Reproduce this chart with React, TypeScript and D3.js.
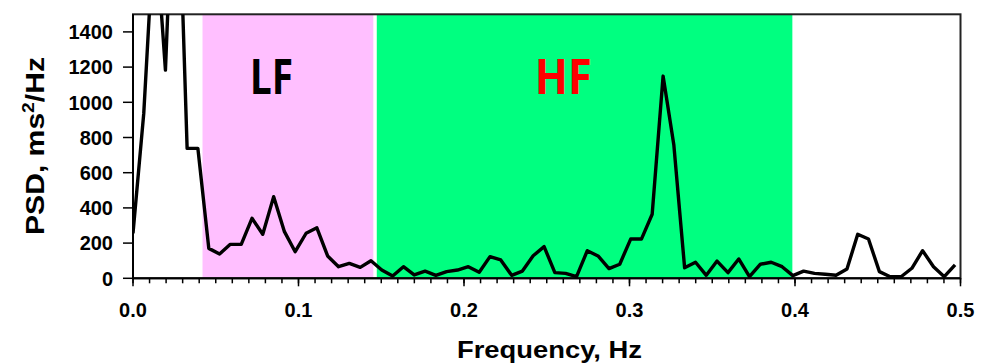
import * as d3 from 'd3'

// PSD spectrum, frequency bins (Hz) and power (ms²/Hz)
const freqs = [
  0, 0.0065, 0.0131, 0.0196, 0.0261, 0.0327, 0.0392, 0.0458, 0.0523, 0.0588,
  0.0654, 0.0719, 0.0784, 0.085, 0.0915, 0.098, 0.1046, 0.1111, 0.1176, 0.1242,
  0.1307, 0.1373, 0.1438, 0.1503, 0.1569, 0.1634, 0.1699, 0.1765, 0.183, 0.1895,
  0.1961, 0.2026, 0.2092, 0.2157, 0.2222, 0.2288, 0.2353, 0.2418, 0.2484, 0.2549,
  0.2614, 0.268, 0.2745, 0.281, 0.2876, 0.2941, 0.3007, 0.3072, 0.3137, 0.3203,
  0.3268, 0.3333, 0.3399, 0.3464, 0.3529, 0.3595, 0.366, 0.3725, 0.3791, 0.3856,
  0.3922, 0.3987, 0.4052, 0.4118, 0.4183, 0.4248, 0.4314, 0.4379, 0.4444, 0.451,
  0.4575, 0.4641, 0.4706, 0.4771, 0.4837, 0.4902, 0.4967,
]
const psd = [
  256, 937, 2050, 1183, 2700, 738, 738, 170, 138, 193,
  193, 341, 250, 464, 265, 151, 256, 287, 127, 66,
  85, 62, 100, 47, 13, 66, 19, 41, 17, 38,
  47, 66, 34, 123, 104, 17, 41, 128, 180, 32,
  28, 9, 157, 127, 55, 80, 223, 223, 364, 1149,
  757, 60, 91, 17, 98, 32, 110, 9, 80, 91,
  66, 15, 41, 28, 23, 17, 53, 250, 223, 38,
  9, 9, 57, 157, 66, 9, 76,
]

// frequency bands
const bandNames = ['LF', 'HF']
const bandStart = [0.042, 0.1473]
const bandEnd = [0.1452, 0.3984]

const yTicks = [0, 200, 400, 600, 800, 1000, 1200, 1400]
const xTicks = [0, 0.1, 0.2, 0.3, 0.4, 0.5]

const W = 983
const H = 363
const left = 133
const right = 960.5
const top = 14.3
const bottom = 278.3

const bandFill = ['#ffbfff', '#00ff80']
const bandText = ['#000000', '#ff0000']
const bandLabelX = [0.0837, 0.26]
const bandLabelW = [43, 57]

const font = '"Liberation Sans", Arial, sans-serif'

export default function App() {
  const x = d3.scaleLinear().domain([0, 0.5]).range([left, right])
  const y = d3.scaleLinear().domain([0, 1500]).range([bottom, top])

  const pts = freqs.map((f, i) => [f, psd[i]] as [number, number])
  const line = d3.line<[number, number]>()
    .x(d => x(d[0]))
    .y(d => y(d[1]))

  const minor = x.ticks(50)

  return (
    <svg width={W} height={H} style={{ position: 'absolute', left: 0, top: 0, display: 'block' }}
      fontFamily={font} fontWeight="bold">
      <defs>
        <clipPath id="plot-clip">
          <rect x={left} y={top} width={right - left} height={bottom - top} />
        </clipPath>
      </defs>

      {/* band shading */}
      {bandNames.map((b, i) => (
        <rect key={b} x={x(bandStart[i])} y={top}
          width={x(bandEnd[i]) - x(bandStart[i])} height={bottom - top}
          fill={bandFill[i]} />
      ))}
      {bandNames.map((b, i) => (
        <text key={b + 't'} x={x(bandLabelX[i])} y={y(1050)} textAnchor="middle"
          fontSize={48} fill={bandText[i]} fontFamily='"Noto Sans", sans-serif' fontWeight="bold"
          textLength={bandLabelW[i]} lengthAdjust="spacingAndGlyphs">{b}</text>
      ))}

      {/* frame */}
      <rect x={left} y={top} width={right - left} height={bottom - top}
        fill="none" stroke="#222" strokeWidth={2} />

      {/* data */}
      <path d={line(pts) ?? ''} fill="none" stroke="#000" strokeWidth={3.4}
        strokeLinejoin="round" clipPath="url(#plot-clip)" />

      {/* y axis */}
      <line x1={left} x2={left} y1={top} y2={bottom} stroke="#000" strokeWidth={2} />
      {yTicks.map(t => (
        <g key={t}>
          <line x1={left - 10} x2={left} y1={y(t)} y2={y(t)} stroke="#000" strokeWidth={1.5} />
          <text x={113} y={y(t)} dy="0.36em" textAnchor="end" fontSize={20}>{t}</text>
        </g>
      ))}

      {/* x axis */}
      <line x1={left} x2={right} y1={bottom} y2={bottom} stroke="#000" strokeWidth={2} />
      {minor.map(t => (
        <line key={t} x1={x(t)} x2={x(t)} y1={bottom} y2={bottom + 5} stroke="#000" strokeWidth={1.5} />
      ))}
      {xTicks.map(t => (
        <g key={t}>
          <line x1={x(t)} x2={x(t)} y1={bottom} y2={bottom + 8} stroke="#000" strokeWidth={1.5} />
          <text x={x(t)} y={317} textAnchor="middle" fontSize={20}>{t.toFixed(1)}</text>
        </g>
      ))}

      {/* titles */}
      <text x={549.5} y={358} textAnchor="middle" fontSize={24}
        textLength={185} lengthAdjust="spacingAndGlyphs">Frequency, Hz</text>
      <text transform="translate(44,146) rotate(-90)" textAnchor="middle" fontSize={25}
        textLength={178} lengthAdjust="spacingAndGlyphs">
        PSD, ms<tspan fontSize={16} dy={-10}>2</tspan><tspan dy={10}>/Hz</tspan>
      </text>
    </svg>
  )
}
